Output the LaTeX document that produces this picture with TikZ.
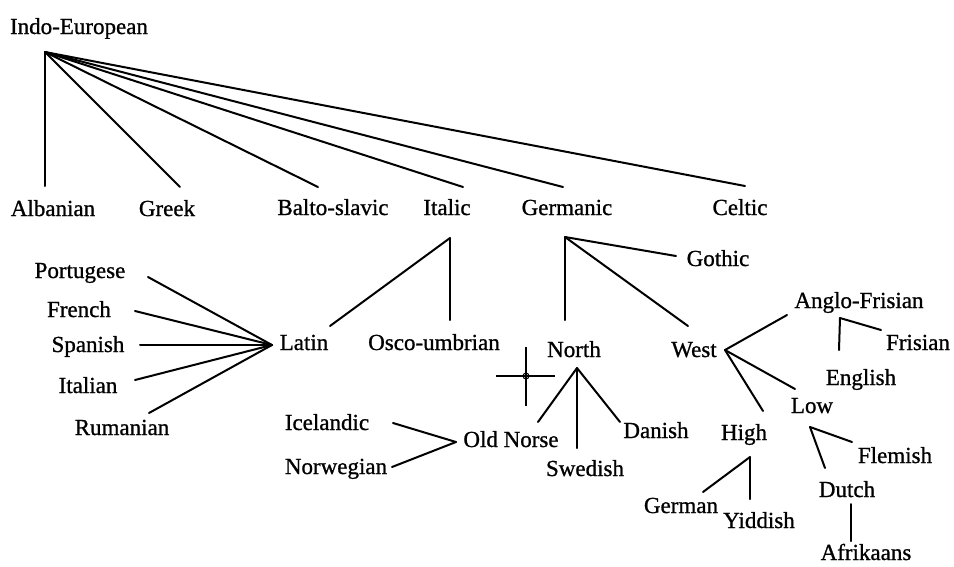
\documentclass[tikz,border=0pt]{standalone}
\usepackage{fontspec}
\setmainfont{Liberation Serif}[FakeBold=0.9]
\begin{document}
\begin{tikzpicture}[x=1pt,y=-1pt,
  lbl/.style={anchor=base,inner sep=0pt,font=\fontsize{23}{26}\selectfont},
  conn/.style={line width=2pt,line cap=round,line join=round}]
\useasboundingbox (0,0) rectangle (954,566);
% labels
\node[lbl] (ie) at (79,34) {Indo-European};
\node[lbl] (alb) at (53,216) {Albanian};
\node[lbl] (grk) at (167,216) {Greek};
\node[lbl] (bal) at (333,215) {Balto-slavic};
\node[lbl] (ita) at (447,215) {Italic};
\node[lbl] (ger) at (567,215) {Germanic};
\node[lbl] (cel) at (740,215) {Celtic};
\node[lbl] (por) at (80,278) {Portugese};
\node[lbl] (fre) at (79,317) {French};
\node[lbl] (spa) at (88,352) {Spanish};
\node[lbl] (itn) at (88,393) {Italian};
\node[lbl] (rum) at (122,435) {Rumanian};
\node[lbl] (lat) at (304,350) {Latin};
\node[lbl] (osc) at (434,350) {Osco-umbrian};
\node[lbl] (ice) at (327,430) {Icelandic};
\node[lbl] (nor) at (336,474) {Norwegian};
\node[lbl] (old) at (511,447) {Old Norse};
\node[lbl] (got) at (718,266) {Gothic};
\node[lbl] (nth) at (574,357) {North};
\node[lbl] (wst) at (694,357) {West};
\node[lbl] (ang) at (859,308) {Anglo-Frisian};
\node[lbl] (fri) at (918,350) {Frisian};
\node[lbl] (eng) at (861,385) {English};
\node[lbl] (low) at (812,413) {Low};
\node[lbl] (hig) at (744,440) {High};
\node[lbl] (dan) at (656,438) {Danish};
\node[lbl] (swe) at (585,476) {Swedish};
\node[lbl] (gmn) at (681,513) {German};
\node[lbl] (yid) at (759,528) {Yiddish};
\node[lbl] (fle) at (895,463) {Flemish};
\node[lbl] (dut) at (847,497) {Dutch};
\node[lbl] (afr) at (866,560) {Afrikaans};
% junction points and connector ends
\coordinate (jie) at (45,52);
\coordinate (ealb) at (45,186);
\coordinate (egrk) at (180,187);
\coordinate (ebal) at (318,187);
\coordinate (eita) at (463,187);
\coordinate (eger) at (563,187);
\coordinate (ecel) at (745,186);
\coordinate (jita) at (450,238);
\coordinate (elat) at (330,326);
\coordinate (eosc) at (450,320);
\coordinate (jlat) at (272,345);
\coordinate (epor) at (148,277);
\coordinate (efre) at (135,311);
\coordinate (espa) at (140,345);
\coordinate (eitn) at (135,380);
\coordinate (erum) at (149,413);
\coordinate (jold) at (456,442);
\coordinate (eice) at (393,423);
\coordinate (enor) at (392,467);
\coordinate (jger) at (565,237);
\coordinate (egot) at (676,256);
\coordinate (enth) at (565,320);
\coordinate (ewst) at (688,326);
\coordinate (jnth) at (577,368);
\coordinate (eold) at (538,422);
\coordinate (eswe) at (577,448);
\coordinate (edan) at (620,422);
\coordinate (jwst) at (725,350);
\coordinate (eang) at (787,315);
\coordinate (elow) at (795,389);
\coordinate (ehig) at (763,411);
\coordinate (jang) at (840,318);
\coordinate (eeng) at (839,350);
\coordinate (efri) at (881,330);
\coordinate (jhig) at (750,457);
\coordinate (egmn) at (703,492);
\coordinate (eyid) at (750,499);
\coordinate (jlow) at (810,427);
\coordinate (efle) at (852,442);
\coordinate (edut) at (825,468);
\coordinate (jdut) at (851,504);
\coordinate (eafr) at (851,541);
% connectors
\foreach \e in {ealb,egrk,ebal,eita,eger,ecel} \draw[conn] (jie) -- (\e);
\foreach \e in {elat,eosc} \draw[conn] (jita) -- (\e);
\foreach \e in {epor,efre,espa,eitn,erum} \draw[conn] (jlat) -- (\e);
\foreach \e in {eice,enor} \draw[conn] (jold) -- (\e);
\foreach \e in {egot,enth,ewst} \draw[conn] (jger) -- (\e);
\foreach \e in {eold,eswe,edan} \draw[conn] (jnth) -- (\e);
\foreach \e in {eang,elow,ehig} \draw[conn] (jwst) -- (\e);
\foreach \e in {eeng,efri} \draw[conn] (jang) -- (\e);
\foreach \e in {egmn,eyid} \draw[conn] (jhig) -- (\e);
\foreach \e in {efle,edut} \draw[conn] (jlow) -- (\e);
\draw[conn] (jdut) -- (eafr);
% crosshair mark
\coordinate (cx) at (526,376);
\draw[line width=1.8pt] (526,347) -- (526,406);
\draw[line width=1.8pt] (496,376) -- (555,376);
\draw[line width=1pt] (cx) circle (3);
\end{tikzpicture}
\end{document}
